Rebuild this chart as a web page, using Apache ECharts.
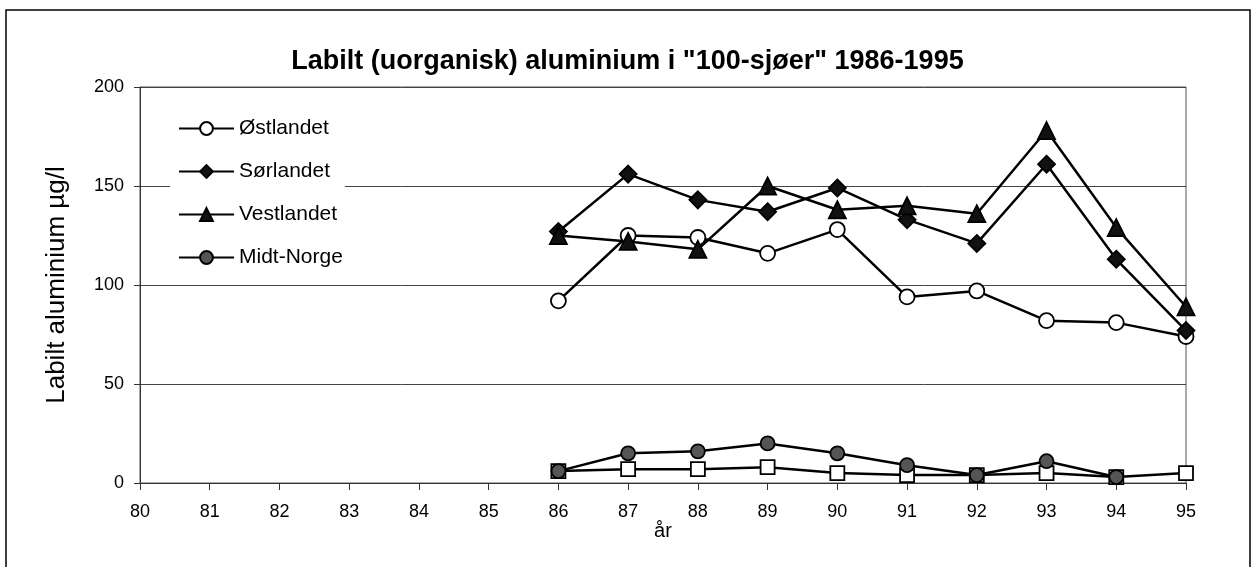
<!DOCTYPE html>
<html>
<head>
<meta charset="utf-8">
<script src="https://cdn.jsdelivr.net/npm/echarts@6/dist/echarts.min.js"></script>
<style>
  html, body { margin: 0; padding: 0; background: #fff; }
  #chart { width: 1255px; height: 567px; }
</style>
</head>
<body>
<div id="chart"></div>
<script>
// x categories (år)
var years = ['80', '81', '82', '83', '84', '85', '86', '87', '88', '89', '90', '91', '92', '93', '94', '95']
// values in µg/l (no data before 86)
var ostlandet = [null, null, null, null, null, null, 92, 125, 124, 116, 128, 94, 97, 82, 81, 74]
var sorlandet = [null, null, null, null, null, null, 127, 156, 143, 137, 149, 133, 121, 161, 113, 77]
var vestlandet = [null, null, null, null, null, null, 125, 122, 118, 150, 138, 140, 136, 178, 129, 89]
var midtNorge = [null, null, null, null, null, null, 6, 15, 16, 20, 15, 9, 4, 11, 3, null]
var nordNorge = [null, null, null, null, null, null, 6, 7, 7, 8, 5, 4, 4, 5, 3, 5]
var yTicks = [0, 50, 100, 150, 200]

var font = 'Liberation Sans, Arial, Helvetica, sans-serif'
var chart = echarts.init(document.getElementById('chart'))

function line(name, data, symbol, size, fill) {
  return {
    name: name,
    type: 'line',
    data: data,
    symbol: symbol,
    symbolSize: size,
    showAllSymbol: true,
    lineStyle: { color: '#000', width: 2.5 },
    itemStyle: { color: fill, borderColor: '#000', borderWidth: 1.8 },
    emphasis: { disabled: true }
  }
}

chart.setOption({
  animation: false,
  backgroundColor: '#fff',
  textStyle: { fontFamily: font, color: '#000' },
  graphic: [{
    type: 'rect',
    shape: { x: 6, y: 10, width: 1244, height: 570 },
    style: { fill: 'none', stroke: '#000', lineWidth: 1.5 },
    z: -1
  }],
  title: {
    text: 'Labilt (uorganisk) aluminium i "100-sjøer" 1986-1995',
    left: 'center',
    top: 43,
    textStyle: { fontFamily: font, fontSize: 27, fontWeight: 'bold', color: '#000' }
  },
  legend: {
    data: ['Østlandet', 'Sørlandet', 'Vestlandet', 'Midt-Norge'],
    orient: 'vertical',
    left: 170,
    top: 108,
    itemWidth: 55,
    itemHeight: 16,
    itemGap: 22,
    padding: [10, 2, 10, 8],
    backgroundColor: '#fff',
    textStyle: { fontFamily: font, fontSize: 21, color: '#000' },
    z: 10
  },
  grid: {
    left: 140,
    right: 69,
    top: 87,
    bottom: 84,
    show: true,
    borderColor: '#555',
    borderWidth: 1
  },
  xAxis: {
    type: 'category',
    data: years,
    boundaryGap: false,
    name: 'år',
    nameLocation: 'middle',
    nameGap: 38,
    nameMoveOverlap: false,
    nameTextStyle: { fontSize: 20, color: '#000' },
    axisLine: { lineStyle: { color: '#333', width: 1 } },
    axisTick: { show: true, length: 7, alignWithLabel: true, lineStyle: { color: '#333' } },
    axisLabel: { fontSize: 18, color: '#000', margin: 20 },
    splitLine: { show: false }
  },
  yAxis: {
    type: 'value',
    min: yTicks[0],
    max: yTicks[yTicks.length - 1],
    interval: 50,
    name: 'Labilt aluminium µg/l',
    nameLocation: 'middle',
    nameGap: 70,
    nameMoveOverlap: false,
    nameTextStyle: { fontSize: 26, color: '#000' },
    axisLine: { show: true, lineStyle: { color: '#333', width: 1 } },
    axisTick: { show: true, length: 6, lineStyle: { color: '#333' } },
    axisLabel: { fontSize: 18, color: '#000', margin: 16 },
    splitLine: { show: true, lineStyle: { color: '#444', width: 1 } }
  },
  series: [
    line('Nord-Norge', nordNorge, 'rect', 14, '#fff'),
    line('Midt-Norge', midtNorge, 'circle', 14, '#555'),
    line('Østlandet', ostlandet, 'circle', 15, '#fff'),
    line('Sørlandet', sorlandet, 'diamond', 17, '#111'),
    line('Vestlandet', vestlandet, 'triangle', 17, '#111')
  ]
})
</script>
</body>
</html>
